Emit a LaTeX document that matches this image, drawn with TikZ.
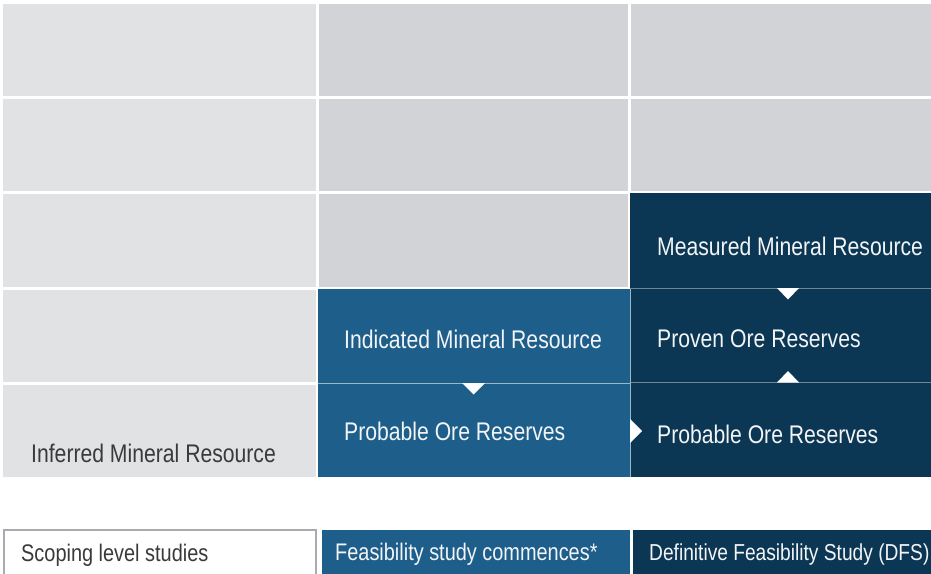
\documentclass[tikz,border=0pt]{standalone}
\usepackage{fontspec}
\setmainfont[FakeStretch=0.83]{Liberation Sans}
\definecolor{lg}{HTML}{E1E2E4}
\definecolor{mg}{HTML}{D1D3D6}
\definecolor{mb}{HTML}{1E5E8A}
\definecolor{db}{HTML}{0B3654}
\definecolor{tx}{HTML}{3A3A3A}
\definecolor{bd}{HTML}{A8ACB1}
\definecolor{wt}{HTML}{F2F4F6}
\begin{document}
\begin{tikzpicture}[x=1pt,y=-1pt,
  lbl/.style={anchor=base west, inner sep=0pt, font=\fontsize{25.5}{30}\selectfont, text=wt},
  blbl/.style={anchor=base west, inner sep=0pt, font=\fontsize{24}{28}\selectfont},
  tri/.style={fill=white, draw=none}]
\useasboundingbox (0,0) rectangle (931,573);
\fill[white] (0,0) rectangle (931,573);
\clip (0,0) rectangle (931,573);
% grey cells
\foreach \t/\b in {4/96,99/191,194/287,290/382,385/477} \fill[lg] (3,\t) rectangle (316,\b);
\foreach \t/\b in {4/96,99/191,194/287} \fill[mg] (319,\t) rectangle (628,\b);
\foreach \t/\b in {4/96,99/191} \fill[mg] (631,\t) rectangle (931,\b);
% blue blocks
\fill[mb] (318,289) rectangle (630,477);
\fill[db] (630,193) rectangle (931,477);
\draw[white!55!mb, line width=1.2pt] (318,383.5) -- (630,383.5);
\draw[white!40!db, line width=1pt] (630,288) -- (931,288);
\draw[white!40!db, line width=1pt] (630,382.5) -- (931,382.5);
\draw[white!55!mb, line width=1pt] (630.5,289) -- (630.5,477);
% triangles
\fill[tri] (462,383) -- (485,383) -- (473.5,394.5) -- cycle;
\fill[tri] (777,288) -- (799,288) -- (788,299.5) -- cycle;
\fill[tri] (777,382.5) -- (799,382.5) -- (788,371) -- cycle;
\fill[tri] (630,419) -- (642,431) -- (630,443) -- cycle;
% texts
\node[lbl] (measured) at (657,255) {Measured Mineral Resource};
\node[lbl] (indicated) at (344,348) {Indicated Mineral Resource};
\node[lbl] (proven) at (657,347) {Proven Ore Reserves};
\node[lbl] (prob2) at (344,440) {Probable Ore Reserves};
\node[lbl] (prob3) at (657,443) {Probable Ore Reserves};
\node[lbl, text=tx] (inferred) at (31,462) {Inferred Mineral Resource};
% bottom bar
\draw[bd, fill=white, line width=1.2pt] (4,530) rectangle (316,590);
\fill[mb] (322,530) rectangle (630,590);
\fill[db] (633,530) rectangle (940,590);
\node[blbl, text=tx] (scoping) at (21,561) {Scoping level studies};
\node[blbl, text=wt] (feas) at (335,560) {Feasibility study commences*};
\node[blbl, text=wt, font=\fontsize{23.1}{28}\selectfont] (dfs) at (649,560) {Definitive Feasibility Study (DFS)};
\end{tikzpicture}
\end{document}
